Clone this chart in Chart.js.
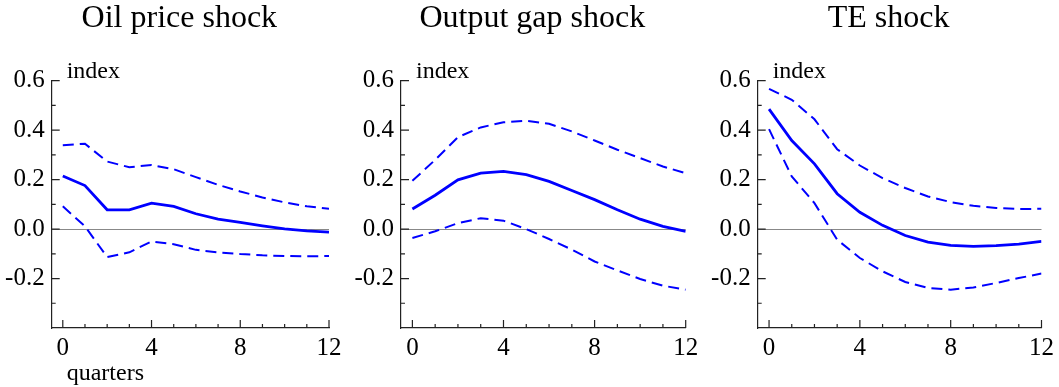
<!DOCTYPE html>
<html lang="en">
<head>
  <meta charset="UTF-8" />
  <title>Impulse responses</title>
  <script src="https://cdn.jsdelivr.net/npm/chart.js"></script>
  <style>
    html, body {
      margin: 0;
      padding: 0;
      background: #fff;
      width: 1059px;
      height: 387px;
      overflow: hidden;
    }
    .panel {
      position: absolute;
      top: 0;
      height: 387px;
    }
  </style>
</head>
<body>
  <div class="panel" style="left:0; width:358px;"><canvas id="oilChart"></canvas></div>
  <div class="panel" style="left:350px; width:368px;"><canvas id="gapChart"></canvas></div>
  <div class="panel" style="left:705px; width:354px;"><canvas id="teChart"></canvas></div>

  <script>
    // horizon and tick labels
    const quarters = [0, 1, 2, 3, 4, 5, 6, 7, 8, 9, 10, 11, 12];
    const xTickLabels = [0, 4, 8, 12];
    const yTickLabels = [-0.2, 0.0, 0.2, 0.4, 0.6];

    // Oil price shock
    const oilMid = [0.215, 0.176, 0.078, 0.078, 0.105, 0.092, 0.062, 0.040, 0.027, 0.013, 0.001, -0.007, -0.012];
    const oilHi  = [0.339, 0.345, 0.273, 0.250, 0.259, 0.242, 0.210, 0.179, 0.152, 0.128, 0.108, 0.092, 0.082];
    const oilLo  = [0.092, 0.011, -0.113, -0.094, -0.050, -0.061, -0.084, -0.094, -0.101, -0.106, -0.109, -0.110, -0.109];

    // Output gap shock
    const gapMid = [0.081, 0.137, 0.199, 0.226, 0.233, 0.220, 0.193, 0.156, 0.119, 0.078, 0.040, 0.011, -0.009];
    const gapHi  = [0.195, 0.280, 0.372, 0.411, 0.432, 0.438, 0.426, 0.395, 0.358, 0.321, 0.287, 0.253, 0.226];
    const gapLo  = [-0.036, -0.009, 0.024, 0.044, 0.034, 0.000, -0.040, -0.083, -0.131, -0.167, -0.202, -0.229, -0.245];

    // TE shock
    const teMid = [0.485, 0.358, 0.264, 0.143, 0.068, 0.015, -0.026, -0.053, -0.066, -0.070, -0.067, -0.061, -0.050];
    const teHi  = [0.567, 0.523, 0.444, 0.323, 0.257, 0.206, 0.166, 0.132, 0.109, 0.094, 0.085, 0.081, 0.082];
    const teLo  = [0.404, 0.213, 0.105, -0.043, -0.117, -0.171, -0.214, -0.238, -0.245, -0.236, -0.218, -0.198, -0.180];

    const SERIF = '"Liberation Serif", "Times New Roman", serif';
    const AXIS = '#222';
    const BLUE = '#0000ff';

    // panel title, ticks drawn inside the plot, and the "index" / "quarters" captions
    const panelDecor = {
      id: 'panelDecor',
      afterDraw(chart, args, opts) {
        const { ctx, chartArea, scales: { x, y } } = chart;
        ctx.save();
        ctx.strokeStyle = AXIS;
        ctx.lineWidth = 1.2;
        ctx.beginPath();
        quarters.forEach(q => {
          const px = x.getPixelForValue(q);
          const len = xTickLabels.includes(q) ? 8 : 4;
          ctx.moveTo(px, chartArea.bottom);
          ctx.lineTo(px, chartArea.bottom - len);
        });
        for (let k = -3; k <= 6; k++) {
          const py = y.getPixelForValue(k / 10);
          const len = k % 2 === 0 ? 8 : 4;
          ctx.moveTo(chartArea.left, py);
          ctx.lineTo(chartArea.left + len, py);
        }
        ctx.stroke();

        ctx.fillStyle = '#000';
        ctx.textBaseline = 'alphabetic';

        // title sits a little left of the plot centre
        ctx.font = '32px ' + SERIF;
        ctx.textAlign = 'center';
        ctx.fillText(opts.title, (chartArea.left + chartArea.right) / 2 - 11, 27);

        ctx.font = '24px ' + SERIF;
        ctx.textAlign = 'left';
        ctx.fillText('index', chartArea.left + 15, chartArea.top - 3);
        if (opts.showQuarters) {
          ctx.fillText('quarters', chartArea.left + 15, chartArea.bottom + 52);
        }
        ctx.restore();
      }
    };

    function toPoints(values) {
      return values.map((v, i) => ({ x: quarters[i], y: v }));
    }

    // yw = width of the y axis box, rightPad = space right of the plot
    function makeChart(id, title, mid, lo, hi, yw, rightPad, showQuarters) {
      return new Chart(document.getElementById(id), {
        type: 'line',
        data: {
          datasets: [
            { data: toPoints(hi), borderColor: BLUE, borderWidth: 2, borderDash: [11, 6], pointRadius: 0, tension: 0 },
            { data: toPoints(lo), borderColor: BLUE, borderWidth: 2, borderDash: [11, 6], pointRadius: 0, tension: 0 },
            { data: toPoints(mid), borderColor: BLUE, borderWidth: 2.8, pointRadius: 0, tension: 0 }
          ]
        },
        options: {
          responsive: true,
          maintainAspectRatio: false,
          animation: false,
          layout: { padding: { top: 80.7, left: 0, right: rightPad, bottom: 0 } },
          plugins: {
            legend: { display: false },
            tooltip: { enabled: false },
            title: { display: false },
            panelDecor: { title: title, showQuarters: showQuarters }
          },
          scales: {
            x: {
              type: 'linear',
              min: -0.5,
              max: 12,
              afterBuildTicks: s => { s.ticks = xTickLabels.map(v => ({ value: v })); },
              afterFit: s => { s.height = 59; },
              grid: { display: false, drawTicks: false },
              border: { display: true, color: AXIS, width: 1.2 },
              ticks: {
                padding: 5,
                color: '#000',
                font: { family: SERIF, size: 25 },
                maxRotation: 0,
                callback: v => String(v)
              }
            },
            y: {
              min: -0.4,
              max: 0.6,
              afterBuildTicks: s => { s.ticks = yTickLabels.map(v => ({ value: v })); },
              afterFit: s => { s.width = yw; },
              grid: {
                drawTicks: false,
                lineWidth: 1,
                color: c => (c.tick && c.tick.value === 0) ? '#888' : 'rgba(0,0,0,0)'
              },
              border: { display: true, color: AXIS, width: 1.2 },
              ticks: {
                padding: 7,
                color: '#000',
                font: { family: SERIF, size: 25 },
                callback: v => Number(v).toFixed(1)
              }
            }
          }
        },
        plugins: [panelDecor]
      });
    }

    makeChart('oilChart', 'Oil price shock', oilMid, oilLo, oilHi, 51.7, 29, true);
    makeChart('gapChart', 'Output gap shock', gapMid, gapLo, gapHi, 51, 32.3, false);
    makeChart('teChart', 'TE shock', teMid, teLo, teHi, 52.7, 13.3, false);
  </script>
</body>
</html>
